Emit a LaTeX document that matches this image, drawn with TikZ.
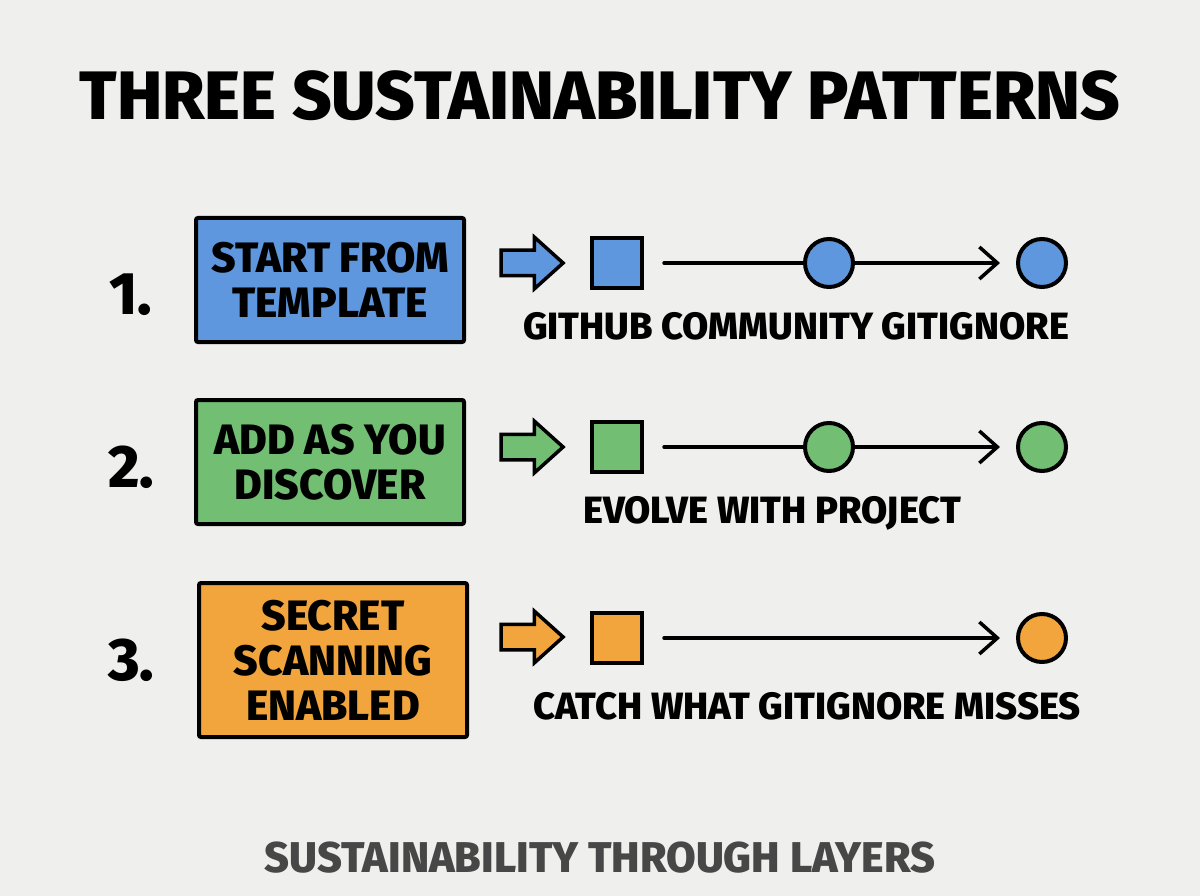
\documentclass[tikz,border=0pt]{standalone}
\usepackage{fontspec}
\setmainfont{Fira Sans}[BoldFont={Fira Sans ExtraBold}]
\usetikzlibrary{arrows.meta,shapes.arrows}

\definecolor{paper}{HTML}{EFEFEE}
\definecolor{stepblue}{HTML}{5E97DE}
\definecolor{stepgreen}{HTML}{72BE72}
\definecolor{steporange}{HTML}{F3A53D}
\definecolor{footgray}{HTML}{474747}

\begin{document}
\begin{tikzpicture}[x=1pt,y=-1pt,
    patternbox/.style={draw=black,line width=4pt,rounded corners=2pt,minimum width=268pt,align=center,font=\bfseries\fontsize{42.5}{45}\selectfont},
    rownum/.style={font=\bfseries\fontsize{60}{62}\selectfont},
    rowtext/.style={font=\bfseries\fontsize{38}{40}\selectfont},
    pusharrow/.style={single arrow,draw=black,line width=3.5pt,minimum width=48pt,minimum height=62pt,single arrow head extend=13pt,single arrow tip angle=84,inner xsep=0pt,inner ysep=11pt},
    startsq/.style={draw=black,line width=4pt,minimum size=50pt,inner sep=0pt},
    endcirc/.style={circle,draw=black,line width=4pt,minimum size=48pt,inner sep=0pt},
    flow/.style={line width=3.5pt,line cap=round},
    tip/.style={-{Straight Barb[length=18pt,width=32pt,line width=3.5pt]}}
  ]
    \fill[paper] (0,0) rectangle (1200,896);
    \useasboundingbox (0,0) rectangle (1200,896);

    % Heading
    \node[font=\bfseries\fontsize{68.5}{72}\selectfont] (title) at (600,96) {THREE SUSTAINABILITY PATTERNS};

    % Row 1: start from template
    \node[rownum] (n1) at (131,295) {1.};
    \node[patternbox,fill=stepblue,minimum height=124pt] (tmpl) at (330,280) {START FROM\\TEMPLATE};
    \node[pusharrow,fill=stepblue] (a1) at (525,263) {};
    \node[startsq,fill=stepblue] (s1) at (617,263) {};
    \node[endcirc,fill=stepblue] (m1) at (829,263) {};
    \node[endcirc,fill=stepblue] (e1) at (1042,263) {};
    \draw[flow] ([xshift=20pt]s1.east) -- (m1.west);
    \draw[flow,tip] (m1.east) -- ([xshift=-16pt]e1.west);
    \node[rowtext] (t1) at (796,326) {GITHUB COMMUNITY GITIGNORE};

    % Row 2: add as you discover
    \node[rownum] (n2) at (131,467) {2.};
    \node[patternbox,fill=stepgreen,minimum height=124pt] (disc) at (330,462) {ADD AS YOU\\DISCOVER};
    \node[pusharrow,fill=stepgreen] (a2) at (525,447) {};
    \node[startsq,fill=stepgreen] (s2) at (617,447) {};
    \node[endcirc,fill=stepgreen] (m2) at (829,447) {};
    \node[endcirc,fill=stepgreen] (e2) at (1042,447) {};
    \draw[flow] ([xshift=20pt]s2.east) -- (m2.west);
    \draw[flow,tip] (m2.east) -- ([xshift=-16pt]e2.west);
    \node[rowtext] (t2) at (772,513) {EVOLVE WITH PROJECT};

    % Row 3: secret scanning
    \node[rownum] (n3) at (131,660) {3.};
    \node[patternbox,fill=steporange,minimum height=154pt] (scan) at (333,660) {SECRET\\SCANNING\\ENABLED};
    \node[pusharrow,fill=steporange] (a3) at (525,637) {};
    \node[startsq,fill=steporange] (s3) at (617,638) {};
    \node[endcirc,fill=steporange] (e3) at (1042,638) {};
    \draw[flow,tip] ([xshift=20pt]s3.east) -- ([xshift=-16pt]e3.west);
    \node[rowtext] (t3) at (807,706) {CATCH WHAT GITIGNORE MISSES};

    % Footer
    \node[font=\bfseries\fontsize{43}{46}\selectfont,text=footgray] (foot) at (600,858) {SUSTAINABILITY THROUGH LAYERS};
  \end{tikzpicture}
\end{document}
